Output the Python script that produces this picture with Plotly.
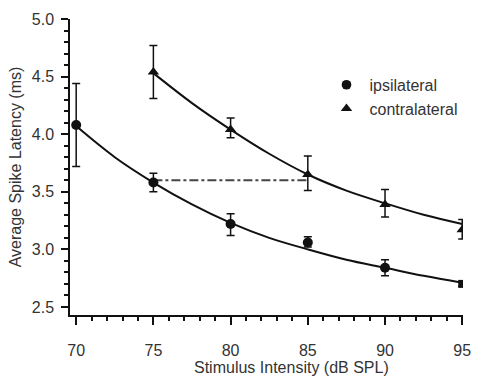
import plotly.graph_objects as go

# Data
intensity = [70, 75, 80, 85, 90, 95]
ipsi_mean = [4.08, 3.58, 3.22, 3.06, 2.84, 2.70]
ipsi_err_plus = [0.36, 0.08, 0.09, 0.05, 0.07, 0.02]
ipsi_err_minus = [0.36, 0.08, 0.10, 0.04, 0.07, 0.02]

contra_x = [75, 80, 85, 90, 95]
contra_mean = [4.54, 4.04, 3.65, 3.39, 3.17]
contra_err_plus = [0.23, 0.10, 0.16, 0.13, 0.09]
contra_err_minus = [0.23, 0.07, 0.14, 0.11, 0.08]

# Fitted curves
fit_ipsi_x = [70, 72.5, 75, 77.5, 80, 82.5, 85, 87.5, 90, 92.5, 95]
fit_ipsi_y = [4.07, 3.80, 3.58, 3.39, 3.23, 3.10, 3.00, 2.91, 2.84, 2.77, 2.71]
fit_contra_x = [75, 77.5, 80, 82.5, 85, 87.5, 90, 92.5, 95]
fit_contra_y = [4.53, 4.27, 4.04, 3.83, 3.65, 3.51, 3.40, 3.30, 3.22]

ref_x = [75, 85]
ref_y = [3.60, 3.60]

ink = "#111111"
txt = "#333333"
fig = go.Figure()

fig.add_trace(go.Scatter(x=fit_ipsi_x, y=fit_ipsi_y, mode="lines",
                         line=dict(color=ink, width=2, shape="spline"),
                         showlegend=False, hoverinfo="skip"))
fig.add_trace(go.Scatter(x=fit_contra_x, y=fit_contra_y, mode="lines",
                         line=dict(color=ink, width=2, shape="spline"),
                         showlegend=False, hoverinfo="skip"))
fig.add_trace(go.Scatter(x=ref_x, y=ref_y, mode="lines",
                         line=dict(color="#444", width=1.8, dash="dashdot"),
                         showlegend=False, hoverinfo="skip"))

fig.add_trace(go.Scatter(
    x=intensity, y=ipsi_mean, mode="markers", name="ipsilateral",
    marker=dict(symbol=["circle"] * 5 + ["square"], size=[10, 10, 10, 10, 10, 8],
                color=ink, opacity=1, line=dict(width=0, color=ink)),
    error_y=dict(type="data", symmetric=False, array=ipsi_err_plus,
                 arrayminus=ipsi_err_minus, color=ink, thickness=1.5, width=4)))
fig.add_trace(go.Scatter(
    x=contra_x, y=contra_mean, mode="markers", name="contralateral",
    marker=dict(symbol="triangle-up", size=10, color=ink, opacity=1,
                line=dict(width=0, color=ink)),
    error_y=dict(type="data", symmetric=False, array=contra_err_plus,
                 arrayminus=contra_err_minus, color=ink, thickness=1.5, width=4)))

axis_common = dict(showline=True, linecolor=ink, linewidth=1.5, ticks="outside",
                   tickcolor=ink, tickwidth=1.5, showgrid=False, zeroline=False,
                   tickfont=dict(size=16, color=txt))

fig.update_xaxes(range=[69.6, 95.05], tick0=70, dtick=5, ticklen=8, ticklabelstandoff=12,
                 minor=dict(ticks="outside", dtick=1, ticklen=4, tickwidth=1.5, tickcolor=ink),
                 **axis_common)
fig.update_yaxes(range=[2.43, 5.0], tick0=2.5, dtick=0.5, ticklen=7, tickformat=".1f",
                 ticklabelstandoff=4,
                 minor=dict(ticks="outside", dtick=0.1, ticklen=4, tickwidth=1.5, tickcolor=ink),
                 title=dict(text="Average Spike Latency (ms)", font=dict(size=16, color=txt),
                            standoff=6),
                 **axis_common)

fig.add_annotation(text="Stimulus Intensity (dB SPL)", xref="paper", yref="paper",
                   x=0.564, y=-0.177, showarrow=False, xanchor="center", yanchor="middle",
                   font=dict(size=16, color=txt))

fig.update_layout(
    width=482, height=381,
    margin=dict(l=70, r=11, t=15, b=66),
    paper_bgcolor="white", plot_bgcolor="white",
    font=dict(family="Liberation Sans, Arial, sans-serif", color=txt),
    legend=dict(x=0.645, y=0.835, xanchor="left", yanchor="top",
                font=dict(size=16, color=txt), bgcolor="rgba(0,0,0,0)",
                itemwidth=36, tracegroupgap=0),
)

fig.write_html("out.html")
